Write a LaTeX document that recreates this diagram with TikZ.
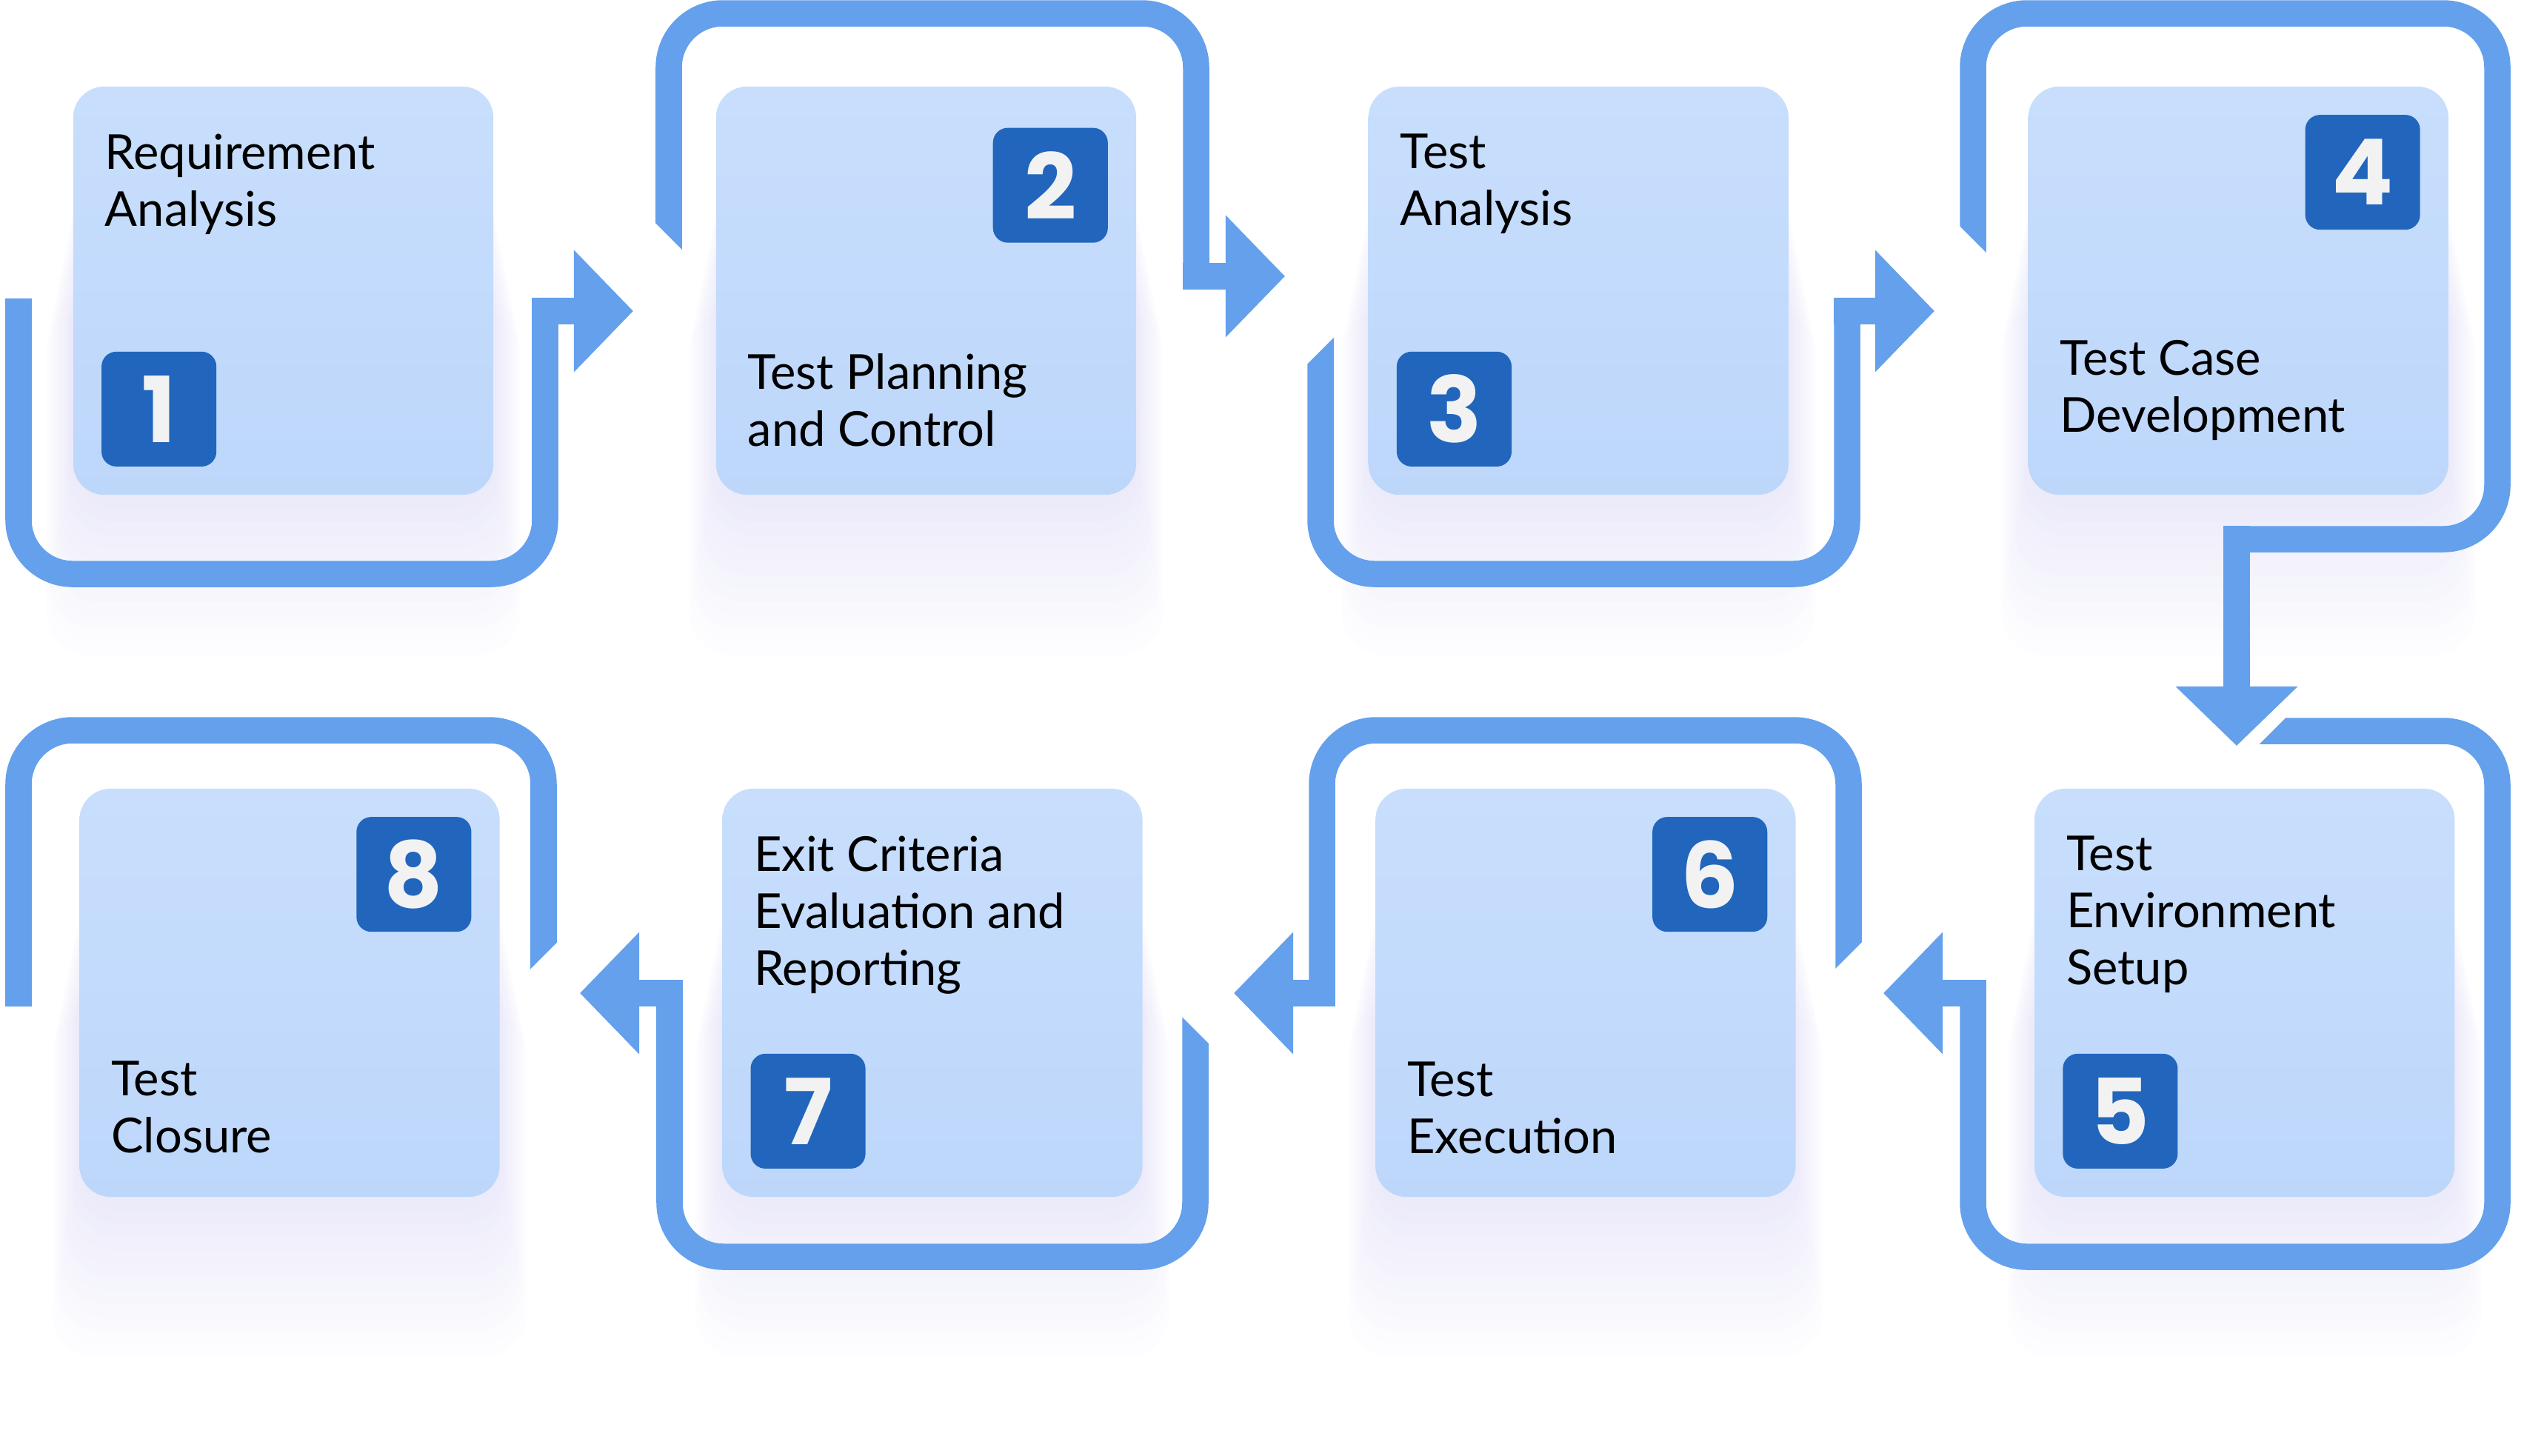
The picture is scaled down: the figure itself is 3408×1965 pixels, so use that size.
\documentclass[tikz,border=0pt]{standalone}
\usepackage{fontspec}
\setmainfont{Lato}
\newfontfamily\numfont{Poppins}
\usetikzlibrary{arrows.meta, positioning, calc, backgrounds}

\definecolor{flow}{RGB}{100,160,236}
\definecolor{cardtop}{RGB}{200,222,252}
\definecolor{cardbot}{RGB}{189,215,251}
\definecolor{badge}{RGB}{33,102,188}
\definecolor{digit}{RGB}{242,242,242}
\definecolor{haze}{RGB}{120,110,220}

\tikzset{
  card/.style     = {rectangle, rounded corners=0.42cm,
                     minimum width=5.67cm, minimum height=5.51cm, inner sep=0pt,
                     top color=cardtop, bottom color=cardbot},
  numbox/.style   = {rectangle, rounded corners=0.2cm, fill=badge,
                     minimum size=1.55cm, inner sep=0pt, text=digit,
                     font=\numfont\bfseries\fontsize{35}{35}\selectfont},
  lbl/.style      = {inner sep=0pt, align=left,
                     font=\fontsize{18.5}{21.9}\selectfont,
                     execute at begin node=\strut, execute at end node=\strut},
  track/.style    = {draw=flow, line width=0.355cm, rounded corners=0.73cm},
  arrowarm/.style = {draw=flow, line width=0.355cm,
                     -{Triangle[length=0.8cm, width=1.6cm]}}
}
% white wedge behind an arrow head, cut to the leg it crosses
\newcommand{\knockout}[5]{%
  \begin{scope}
    \clip #4 rectangle #5;
    \fill[white, draw=white, line width=#3, line join=miter]
      (#1) -- ++(#2+135:1.131cm) -- ++(#2-90:1.6cm) -- cycle;
  \end{scope}
}

\begin{document}
\begin{tikzpicture}[x=0.01cm, y=-0.01cm]

  \useasboundingbox (0,0) rectangle (3408,1965);

  %% ---------------------------------------------------------------
  %%  STAGE CARDS
  %% ---------------------------------------------------------------
  \node[card]                      (s1) at (382.5,392.5) {};
  \node[card, right=2.99cm of s1]  (s2) {};
  \node[card, right=3.12cm of s2]  (s3) {};
  \node[card, right=3.22cm of s3]  (s4) {};

  \node[card]                      (s8) at (391,1340.5) {};
  \node[card, right=2.99cm of s8]  (s7) {};
  \node[card, right=3.13cm of s7]  (s6) {};
  \node[card, right=3.21cm of s6]  (s5) {};

  %% soft lilac haze under every card
  \begin{scope}[on background layer]
    \foreach \c in {s1,s2,s3,s4,s5,s6,s7,s8}
      \foreach \k in {1,...,12}
        \fill[haze, opacity=0.013, rounded corners=0.6cm]
          ($(\c.north west)+(-\k*3,120+\k*15)$) rectangle
          ($(\c.south east)+(\k*3,\k*18)$);
  \end{scope}

  %% ---------------------------------------------------------------
  %%  NUMBER BADGES
  %% ---------------------------------------------------------------
  \node[numbox] (n1) at ($(s1.south west)+(116.5,-116.5)$) {1};
  \node[numbox] (n2) at ($(s2.north east)+(-116.5,134)$)   {2};
  \node[numbox] (n3) at ($(s3.south west)+(116.5,-116.5)$) {3};
  \node[numbox] (n4) at ($(s4.north east)+(-116.5,116.5)$) {4};
  \node[numbox] (n5) at ($(s5.south west)+(116.5,-116.5)$) {5};
  \node[numbox] (n6) at ($(s6.north east)+(-116.5,116.5)$) {6};
  \node[numbox] (n7) at ($(s7.south west)+(116.5,-116.5)$) {7};
  \node[numbox] (n8) at ($(s8.north east)+(-116.5,116.5)$) {8};

  %% ---------------------------------------------------------------
  %%  STAGE NAMES
  %% ---------------------------------------------------------------
  \node[lbl, anchor=north west] (t1) at ($(s1.north west)+(43,64)$)  {Requirement\\Analysis};
  \node[lbl, anchor=south west] (t2) at ($(s2.south west)+(43,-43)$) {Test Planning\\and Control};
  \node[lbl, anchor=north west] (t3) at ($(s3.north west)+(43,64)$)  {Test\\Analysis};
  \node[lbl, anchor=south west] (t4) at ($(s4.south west)+(43,-62)$) {Test Case\\Development};
  \node[lbl, anchor=north west] (t5) at ($(s5.north west)+(43,64)$)  {Test\\Environment\\Setup};
  \node[lbl, anchor=south west] (t6) at ($(s6.south west)+(43,-36)$) {Test\\Execution};
  \node[lbl, anchor=north west] (t7) at ($(s7.north west)+(43,64)$)  {Exit Criteria\\Evaluation and\\Reporting};
  \node[lbl, anchor=south west] (t8) at ($(s8.south west)+(43,-37)$) {Test\\Closure};

  %% ---------------------------------------------------------------
  %%  LOOP ENDS AND ARROW TIPS
  %% ---------------------------------------------------------------
  \coordinate (c1s)  at (25,403);    \coordinate (tip1) at (855,420);
  \coordinate (c2s)  at (903,360);   \coordinate (tip2) at (1735,373);
  \coordinate (c3s)  at (1783,400);  \coordinate (tip3) at (2612,420);
  \coordinate (c4s)  at (2664,360);  \coordinate (tip4) at (3020,1007);
  \coordinate (c5s)  at (3020,987);  \coordinate (tip5) at (2543,1341);
  \coordinate (c6s)  at (2496,1330); \coordinate (tip6) at (1666,1341);
  \coordinate (c7s)  at (1614,1360); \coordinate (tip7) at (783,1341);
  \coordinate (c8s)  at (734,1320);  \coordinate (c8e)  at (25,1359);

  %% ---------------------------------------------------------------
  %%  LOOPS (last one first, so each head can cut the next leg)
  %% ---------------------------------------------------------------
  \draw[track] (c8s) -- (734,986) -- (25,986) -- (c8e);

  \knockout{tip7}{180}{1.4cm}{(714,1230)}{(754,1335)}
  \draw[track] (c7s) -- (1614,1697) -- (904,1697) -- (904,1341);
  \draw[arrowarm] (921.5,1341) -- (tip7);

  \knockout{tip6}{180}{1.44cm}{(1594,1345)}{(1634,1440)}
  \draw[track] (c6s) -- (2496,986) -- (1785,986) -- (1785,1341);
  \draw[arrowarm] (1802.5,1341) -- (tip6);

  \knockout{tip5}{180}{1.38cm}{(2476,1230)}{(2516,1338)}
  \draw[track] (c5s) -- (3372,987) -- (3372,1697) -- (2664,1697) -- (2664,1341);
  \draw[arrowarm] (2681.5,1341) -- (tip5);

  \knockout{tip4}{-90}{0.4cm}{(3015,967)}{(3110,1007)}
  \draw[track] (c4s) -- (2664,18) -- (3372,18) -- (3372,728) -- (3020,728);
  \draw[arrowarm] (3020,710.25) -- (tip4);

  \knockout{tip3}{0}{2.1cm}{(2644,240)}{(2684,380)}
  \draw[track] (c3s) -- (1783,775) -- (2494,775) -- (2494,420);
  \draw[arrowarm] (2476.25,420) -- (tip3);

  \knockout{tip2}{0}{2.1cm}{(1764,395)}{(1803,520)}
  \draw[track] (c2s) -- (903,18) -- (1615,18) -- (1615,373);
  \draw[arrowarm] (1597.25,373) -- (tip2);

  \knockout{tip1}{0}{2.1cm}{(884,240)}{(923,380)}
  \draw[track] (c1s) -- (25,775) -- (736,775) -- (736,420);
  \draw[arrowarm] (718.25,420) -- (tip1);

\end{tikzpicture}
\end{document}
